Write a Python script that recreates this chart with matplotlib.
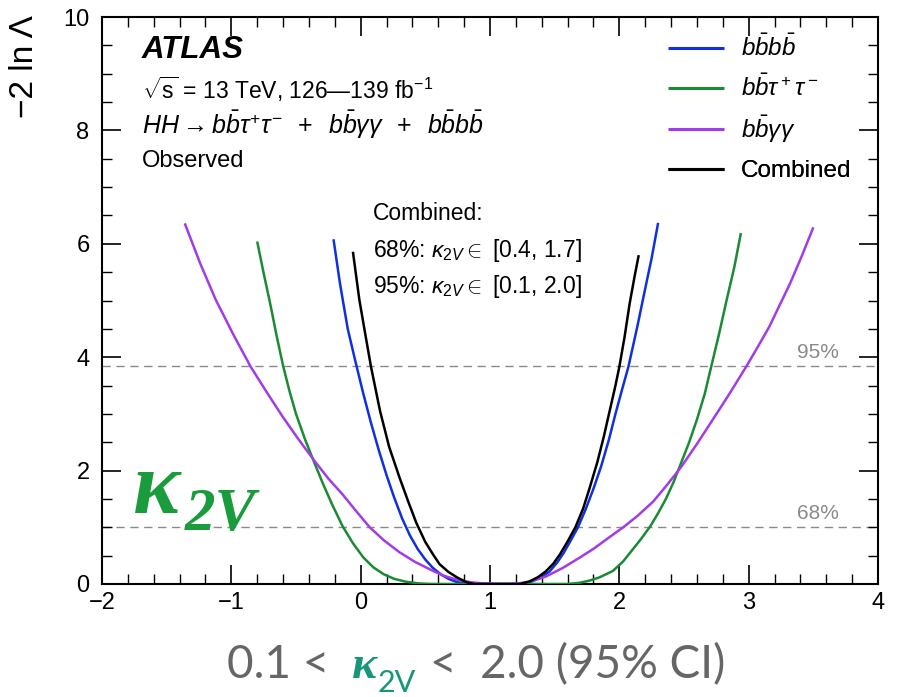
import matplotlib
matplotlib.use("Agg")
import matplotlib.pyplot as plt
from matplotlib.ticker import MultipleLocator

plt.rcParams['font.family'] = ['Liberation Sans', 'DejaVu Sans']
plt.rcParams['mathtext.fontset'] = 'custom'
plt.rcParams['mathtext.rm'] = 'Liberation Sans'
plt.rcParams['mathtext.it'] = 'Liberation Sans:italic'
plt.rcParams['mathtext.bf'] = 'Liberation Sans:bold'

# ---- data ----
comb_x = [-0.06, -0.01, 0.04, 0.08, 0.15, 0.22, 0.30, 0.37, 0.43, 0.50, 0.56, 0.61, 0.68, 0.75, 0.82, 0.88, 1.00, 1.23,
          1.30, 1.37, 1.43, 1.49, 1.54, 1.60, 1.66, 1.72, 1.77, 1.83, 1.88, 1.93, 1.97, 2.00, 2.04, 2.08, 2.12, 2.15]
comb_y = [5.86, 5.01, 4.35, 3.83, 3.05, 2.42, 1.88, 1.44, 1.08, 0.74, 0.52, 0.35, 0.21, 0.11, 0.03, 0.00, 0.00, 0.00,
          0.04, 0.12, 0.22, 0.36, 0.52, 0.75, 1.00, 1.33, 1.69, 2.15, 2.60, 3.10, 3.50, 3.83, 4.35, 4.95, 5.45, 5.80]

bbbb_x = [-0.21, -0.16, -0.10, -0.04, 0.02, 0.08, 0.14, 0.20, 0.26, 0.32, 0.38, 0.44, 0.50, 0.56, 0.62, 0.68, 0.75, 0.82, 0.88, 1.00, 1.25,
          1.32, 1.39, 1.46, 1.52, 1.57, 1.62, 1.68, 1.74, 1.80, 1.86, 1.92, 1.97, 2.02, 2.07, 2.14, 2.19, 2.25, 2.30]
bbbb_y = [6.08, 5.30, 4.50, 3.92, 3.36, 2.84, 2.36, 1.92, 1.52, 1.16, 0.86, 0.62, 0.43, 0.28, 0.17, 0.09, 0.03, 0.01, 0.00, 0.00, 0.00,
          0.04, 0.11, 0.22, 0.38, 0.55, 0.75, 1.00, 1.32, 1.68, 2.08, 2.55, 3.00, 3.42, 3.83, 4.55, 5.10, 5.75, 6.37]

bbtt_x = [-0.80, -0.75, -0.70, -0.65, -0.60, -0.55, -0.50, -0.43, -0.36, -0.29, -0.22, -0.14, -0.06, 0.02, 0.10, 0.18, 0.26, 0.35, 0.45, 0.55,
          1.00, 1.60, 1.69, 1.77, 1.85, 1.95, 2.03, 2.10, 2.17, 2.24, 2.30, 2.36, 2.42, 2.48, 2.54, 2.60, 2.66, 2.71, 2.77, 2.83, 2.89, 2.94]
bbtt_y = [6.04, 5.48, 4.95, 4.38, 3.85, 3.40, 3.00, 2.55, 2.15, 1.76, 1.40, 1.02, 0.72, 0.47, 0.29, 0.17, 0.09, 0.04, 0.01, 0.00,
          0.00, 0.00, 0.02, 0.06, 0.12, 0.23, 0.40, 0.60, 0.80, 1.02, 1.25, 1.50, 1.80, 2.15, 2.50, 2.90, 3.35, 3.83, 4.40, 5.01, 5.60, 6.19]

bbyy_x = [-1.36, -1.24, -1.12, -0.98, -0.85, -0.72, -0.60, -0.48, -0.36, -0.25, -0.14, -0.04, 0.07, 0.18, 0.30, 0.42, 0.56, 0.65, 0.74,
          0.85, 0.95, 1.10, 1.22, 1.32, 1.43, 1.56, 1.69, 1.80, 1.92, 2.03, 2.14, 2.26, 2.37, 2.48, 2.60, 2.72, 2.85, 2.98, 3.07, 3.16,
          3.24, 3.32, 3.41, 3.50]
bbyy_y = [6.36, 5.65, 5.01, 4.38, 3.83, 3.36, 2.94, 2.55, 2.18, 1.86, 1.58, 1.30, 1.00, 0.77, 0.56, 0.39, 0.23, 0.14, 0.08,
          0.03, 0.01, 0.00, 0.01, 0.05, 0.13, 0.28, 0.46, 0.62, 0.82, 1.00, 1.20, 1.45, 1.75, 2.07, 2.47, 2.89, 3.35, 3.83, 4.18, 4.54,
          4.92, 5.30, 5.78, 6.29]

series_labels = [r"$b\bar{b}b\bar{b}$", r"$b\bar{b}\tau^+\tau^-$", r"$b\bar{b}\gamma\gamma$", "Combined"]
series_colors = ['#1030e0', '#1b8a34', '#a23ce6', '#000000']

cl_levels = [1.0, 3.84]
cl_labels = ['68%', '95%']

x_ticks = [-2, -1, 0, 1, 2, 3, 4]
x_tick_labels = ['\u22122', '\u22121', '0', '1', '2', '3', '4']
y_ticks = [0, 2, 4, 6, 8, 10]

# ---- figure ----
W, H = 897, 697
fig = plt.figure(figsize=(W / 100, H / 100), dpi=100)
L, R, T, B = 102, 878, 17, 584
ax = fig.add_axes([L / W, 1 - B / H, (R - L) / W, (B - T) / H])

ax.set_xlim(-2, 4)
ax.set_ylim(0, 10)

for yl in cl_levels:
    ax.axhline(yl, color='#8a8a8a', lw=1.0, ls=(0, (6, 4)), zorder=1)

series = [(bbbb_x, bbbb_y), (bbtt_x, bbtt_y), (bbyy_x, bbyy_y), (comb_x, comb_y)]
handles = []
for (xs, ys), lab, col in zip(series, series_labels, series_colors):
    h, = ax.plot(xs, ys, color=col, lw=1.8, label=lab, zorder=3,
                 solid_joinstyle='round', solid_capstyle='butt')
    handles.append(h)

for yl, lab in zip(cl_levels, cl_labels):
    ax.text(3.70, yl + 0.24, lab, color='#8a8a8a', fontsize=15, ha='right', va='center')

ax.set_xticks(x_ticks)
ax.set_yticks(y_ticks)
ax.xaxis.set_minor_locator(MultipleLocator(0.2))
ax.yaxis.set_minor_locator(MultipleLocator(0.5))
ax.tick_params(which='both', direction='in', top=True, right=True)
ax.tick_params(which='major', length=14, width=1.2, labelsize=17)
ax.tick_params(axis='x', which='major', pad=6)
ax.tick_params(axis='y', which='major', pad=9)
ax.tick_params(which='minor', length=7, width=1.0)
for s in ax.spines.values():
    s.set_linewidth(1.5)
ax.set_xticklabels(x_tick_labels)

ax.set_ylabel('\u22122 ln \u039b', fontsize=24, loc='top')
ax.yaxis.set_label_coords((40 - L) / (R - L), 1.004)


def axf(px, py):
    return ((px - L) / (R - L), (B - py) / (B - T))


ax.text(*axf(142, 50), 'ATLAS', fontsize=22.5, fontweight='bold', fontstyle='italic', va='center', ha='left',
        transform=ax.transAxes)
ax.text(*axf(142, 89), r'$\sqrt{\mathrm{s}}$ = 13 TeV, 126—139 fb$^{-1}$', fontsize=16.5, va='center', ha='left',
        transform=ax.transAxes)
ax.text(*axf(142, 125),
        r'$HH \rightarrow b\bar{b}\tau^{+}\tau^{-}\;\;+\;\;b\bar{b}\gamma\gamma\;\;+\;\;b\bar{b}b\bar{b}$',
        fontsize=18, va='center', ha='left', transform=ax.transAxes)
ax.text(*axf(142, 161), 'Observed', fontsize=17, va='center', ha='left', transform=ax.transAxes)

ax.text(*axf(373, 213), 'Combined:', fontsize=16.5, va='center', ha='left', transform=ax.transAxes)
ax.text(*axf(373, 250), r'68%: $\kappa_{2V} \in$ [0.4, 1.7]', fontsize=16.5, va='center', ha='left',
        transform=ax.transAxes)
ax.text(*axf(373, 286), r'95%: $\kappa_{2V} \in$ [0.1, 2.0]', fontsize=16.5, va='center', ha='left',
        transform=ax.transAxes)

# legend: one row per entry at fixed heights
legend_rows = [48, 88, 129, 171]
for h, lab, yrow in zip(handles, series_labels, legend_rows):
    lg = ax.legend(handles=[h], labels=[lab], loc='center left', bbox_to_anchor=axf(668, yrow),
                   frameon=False, fontsize=17.5, handlelength=2.3, handletextpad=0.7,
                   borderpad=0, borderaxespad=0)
    for ln in lg.get_lines():
        ln.set_linewidth(2.2)
    ax.add_artist(lg)

# big kappa_2V label
kcol = '#1a9c3c'
ax.text(*axf(133, 513), '\u03ba', fontsize=64, fontweight='bold', fontstyle='italic',
        family='Liberation Serif', color=kcol, va='baseline', ha='left', transform=ax.transAxes)
ax.text(*axf(185, 530), '2V', fontsize=44, fontweight='bold', fontstyle='italic', family='Liberation Serif',
        color=kcol, va='baseline', ha='left', transform=ax.transAxes)

# bottom caption
gcol = '#666666'
tcol = '#17967a'
base = 1 - 678 / H
fig.text(227 / W, base, '0.1 <', fontsize=33, family='Lato', color=gcol, va='baseline', ha='left')
fig.text(352 / W, base, '\u03ba', fontsize=34, family='Liberation Serif', fontweight='bold', fontstyle='italic',
         color=tcol, va='baseline', ha='left')
fig.text(378 / W, 1 - 692 / H, '2V', fontsize=22, family='Lato', color=tcol, va='baseline', ha='left')
fig.text(430 / W, base, '<  2.0 (95% CI)', fontsize=33, family='Lato', color=gcol, va='baseline', ha='left')

fig.savefig('out.png', dpi=100)
